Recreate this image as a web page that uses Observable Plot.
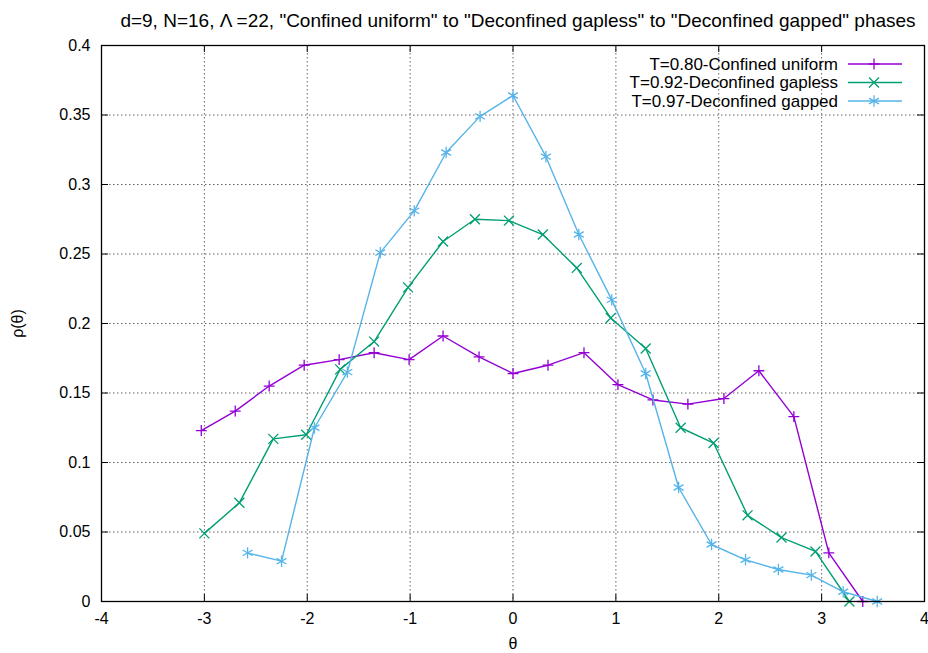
<!DOCTYPE html>
<html>
<head>
<meta charset="utf-8">
<script src="https://cdn.jsdelivr.net/npm/d3@7"></script>
<script src="https://cdn.jsdelivr.net/npm/@observablehq/plot@0.6"></script>
<style>
  body { margin: 0; background: #fff; }
  svg { display: block; }
</style>
</head>
<body>
<div id="chart"></div>
<script>
// Eigenvalue density rho(theta) at three temperatures
const titleText = 'd=9, N=16, \u039B =22, "Confined uniform" to "Deconfined gapless" to "Deconfined gapped" phases';

const theta80 = [-3.03, -2.70, -2.37, -2.03, -1.69, -1.35, -1.01, -0.68, -0.33, 0.00, 0.34, 0.69, 1.02, 1.36, 1.70, 2.05, 2.39, 2.73, 3.07, 3.40];
const rho80   = [0.123, 0.137, 0.155, 0.170, 0.174, 0.179, 0.174, 0.191, 0.176, 0.164, 0.170, 0.179, 0.156, 0.145, 0.142, 0.146, 0.166, 0.133, 0.035, 0.000];

const theta92 = [-3.00, -2.66, -2.33, -2.01, -1.68, -1.35, -1.02, -0.68, -0.37, -0.04, 0.29, 0.62, 0.95, 1.29, 1.63, 1.95, 2.28, 2.61, 2.94, 3.27];
const rho92   = [0.049, 0.071, 0.117, 0.120, 0.167, 0.187, 0.226, 0.259, 0.275, 0.274, 0.264, 0.240, 0.204, 0.182, 0.125, 0.114, 0.062, 0.046, 0.036, 0.000];

const theta97 = [-2.58, -2.25, -1.93, -1.61, -1.29, -0.96, -0.65, -0.32, 0.00, 0.32, 0.64, 0.96, 1.29, 1.61, 1.93, 2.26, 2.58, 2.90, 3.21, 3.54];
const rho97   = [0.035, 0.029, 0.125, 0.165, 0.251, 0.281, 0.323, 0.349, 0.364, 0.320, 0.264, 0.217, 0.164, 0.082, 0.041, 0.030, 0.023, 0.019, 0.007, 0.000];

const seriesNames = ["T=0.80-Confined uniform", "T=0.92-Deconfined gapless", "T=0.97-Deconfined gapped"];
const seriesColors = ["#9400d3", "#009e73", "#56b4e9"];
const seriesSymbols = ["plus", "times", "asterisk"];
const symbolRadius = [3.6, 4.6, 5.4];

const xTicks = [-4, -3, -2, -1, 0, 1, 2, 3, 4];
const yTicks = [0, 0.05, 0.1, 0.15, 0.2, 0.25, 0.3, 0.35, 0.4];

const series = [
  {theta: theta80, rho: rho80},
  {theta: theta92, rho: rho92},
  {theta: theta97, rho: rho97}
].map((s, k) => ({
  name: seriesNames[k], color: seriesColors[k], symbol: seriesSymbols[k], r: symbolRadius[k],
  rows: s.theta.map((t, i) => ({theta: t, rho: s.rho[i]}))
}));

// layout
const W = 928, H = 653;
const mL = 101, mR = 4, mT = 45, mB = 52;
const fw = W - mL - mR, fh = H - mT - mB;
const tickLen = 7;
const font = "'Liberation Sans', Arial, Helvetica, sans-serif";
const fmt = d => String(d);

const marks = [
  Plot.gridX(xTicks, {stroke: "#666", strokeOpacity: 1, strokeWidth: 1, strokeDasharray: "1.5,2.5"}),
  Plot.gridY(yTicks, {stroke: "#666", strokeOpacity: 1, strokeWidth: 1, strokeDasharray: "1.5,2.5"}),
  // inward tick marks on all four sides
  Plot.tickX(xTicks, {x: d => d, insetTop: fh - tickLen, stroke: "#000"}),
  Plot.tickX(xTicks, {x: d => d, insetBottom: fh - tickLen, stroke: "#000"}),
  Plot.tickY(yTicks, {y: d => d, insetRight: fw - tickLen, stroke: "#000"}),
  Plot.tickY(yTicks, {y: d => d, insetLeft: fw - tickLen, stroke: "#000"}),
  Plot.axisX({ticks: xTicks, tickFormat: fmt, tickSize: 0, tickPadding: 11, label: null, fontSize: 16}),
  Plot.axisY({ticks: yTicks, tickFormat: fmt, tickSize: 0, tickPadding: 11, label: null, fontSize: 16}),
  ...series.flatMap(s => [
    Plot.line(s.rows, {x: "theta", y: "rho", stroke: s.color, strokeWidth: 1.4}),
    Plot.dot(s.rows, {x: "theta", y: "rho", symbol: s.symbol, r: s.r, stroke: s.color, strokeWidth: 1.3})
  ]),
  Plot.frame({stroke: "#000", strokeWidth: 1.3}),
  Plot.text([titleText], {frameAnchor: "top", lineAnchor: "middle", dx: 5, dy: -25, fontSize: 19, fill: "#000"}),
  Plot.text(["\u03B8"], {frameAnchor: "bottom", lineAnchor: "middle", dy: 42, fontSize: 16, fill: "#000"}),
  Plot.text(["\u03C1(\u03B8)"], {frameAnchor: "left", textAnchor: "middle", lineAnchor: "middle", dx: -84, rotate: -90, fontSize: 16, fill: "#000"})
];

const chart = Plot.plot({
  width: W, height: H,
  marginLeft: mL, marginRight: mR, marginTop: mT, marginBottom: mB,
  style: {fontFamily: font, fontSize: "16px", color: "#000", background: "#fff"},
  x: {domain: [-4, 4]},
  y: {domain: [0, 0.4]},
  marks
});

// key in the upper-right corner of the frame
const svg = d3.select(chart);
const key = svg.append("g").attr("font-family", font).attr("font-size", 17);
const symbolTypes = {plus: d3.symbolPlus, times: d3.symbolTimes, asterisk: d3.symbolAsterisk};
series.forEach((s, i) => {
  const yy = mT + 19 + i * 18.5;
  const xEnd = 838;
  key.append("text").attr("x", xEnd).attr("y", yy).attr("dy", "0.35em")
    .attr("text-anchor", "end").attr("fill", "#000").text(s.name);
  key.append("line").attr("x1", xEnd + 10).attr("x2", xEnd + 64)
    .attr("y1", yy).attr("y2", yy).attr("stroke", s.color).attr("stroke-width", 1.4);
  key.append("path").attr("transform", `translate(${xEnd + 36},${yy})`)
    .attr("d", d3.symbol(symbolTypes[s.symbol], Math.PI * s.r * s.r)())
    .attr("fill", "none").attr("stroke", s.color).attr("stroke-width", 1.3);
});

document.getElementById("chart").appendChild(chart);
</script>
</body>
</html>
